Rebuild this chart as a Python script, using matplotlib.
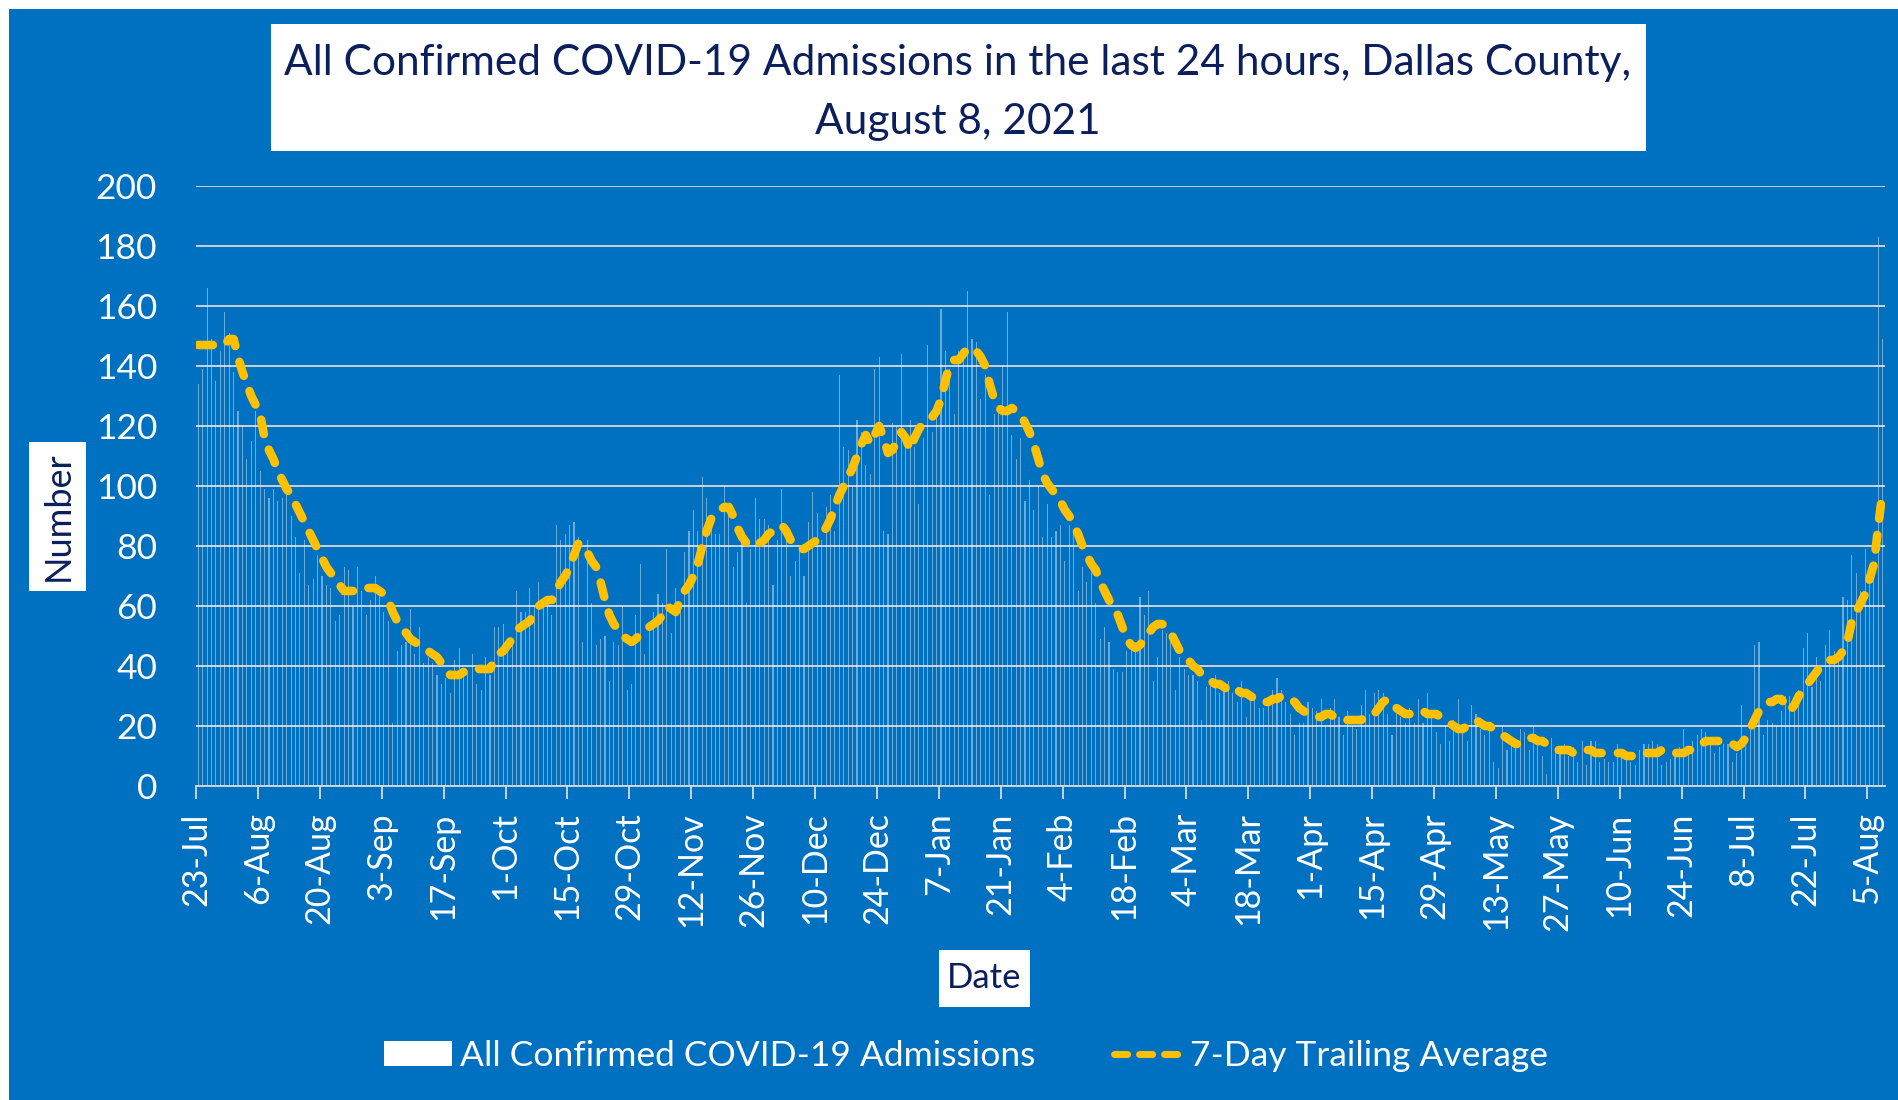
import matplotlib.pyplot as plt
import numpy as np
from matplotlib.patches import Rectangle, Patch
from matplotlib.lines import Line2D

# -----------------------------
# Data (daily admissions, 23-Jul-2020 .. 8-Aug-2021)
# -----------------------------
admissions = [
    134, 139, 166, 149, 135, 145, 158,
    151, 138, 125, 120, 109, 115, 125,
    105, 99, 96, 99, 95, 96, 97,
    90, 83, 71, 82, 67, 69, 77,
    70, 67, 66, 55, 57, 73, 72,
    60, 73, 65, 57, 62, 70, 64,
    58, 55, 21, 45, 47, 48, 59,
    44, 53, 41, 43, 41, 37, 34,
    36, 31, 42, 46, 38, 38, 44,
    34, 32, 43, 37, 53, 53, 54,
    46, 48, 65, 58, 58, 66, 60,
    68, 61, 60, 57, 87, 82, 84,
    87, 88, 83, 48, 82, 61, 47,
    49, 50, 35, 48, 47, 60, 32,
    34, 57, 74, 44, 54, 58, 64,
    61, 79, 51, 66, 60, 78, 85,
    92, 85, 103, 96, 87, 84, 84,
    100, 90, 73, 78, 84, 61, 79,
    96, 89, 89, 87, 67, 82, 99,
    83, 70, 75, 79, 70, 88, 98,
    91, 82, 93, 97, 85, 137, 113,
    112, 100, 122, 118, 107, 104, 139,
    143, 85, 84, 121, 120, 144, 116,
    122, 113, 94, 116, 147, 118, 124,
    159, 145, 139, 124, 145, 144, 165,
    149, 148, 129, 137, 97, 124, 127,
    140, 158, 117, 109, 116, 95, 102,
    92, 100, 83, 94, 83, 85, 87,
    75, 87, 85, 65, 73, 68, 73,
    61, 49, 53, 48, 39, 38, 38,
    45, 46, 48, 63, 57, 65, 35,
    43, 52, 51, 50, 32, 43, 39,
    37, 37, 35, 22, 33, 35, 37,
    31, 34, 35, 31, 28, 35, 23,
    31, 29, 26, 26, 29, 32, 36,
    32, 28, 24, 17, 21, 21, 28,
    26, 25, 29, 20, 26, 29, 23,
    17, 25, 20, 19, 27, 32, 24,
    31, 32, 31, 24, 17, 25, 23,
    21, 26, 21, 29, 21, 31, 23,
    18, 14, 20, 15, 22, 29, 18,
    15, 27, 24, 19, 17, 21, 8,
    6, 20, 12, 16, 13, 19, 18,
    12, 20, 15, 10, 4, 16, 12,
    13, 14, 10, 13, 8, 15, 7,
    15, 15, 8, 9, 8, 8, 14,
    12, 11, 8, 7, 12, 14, 14,
    15, 14, 7, 8, 9, 10, 13,
    19, 11, 15, 17, 19, 18, 16,
    11, 13, 14, 14, 8, 11, 27,
    15, 19, 47, 48, 17, 22, 21,
    20, 25, 30, 30, 30, 32, 46,
    51, 33, 43, 35, 47, 52, 45,
    42, 63, 62, 77, 71, 65, 79,
    71, 73, 183, 149,
]

avg_7day = [
    147, 147, 147, 147, 147, 147, 147,
    149, 149, 143, 138, 134, 130, 127,
    124, 116, 112, 109, 105, 102, 99,
    97, 94, 91, 88, 85, 82, 79,
    76, 73, 71, 69, 67, 65, 65,
    65, 66, 66, 66, 66, 66, 65,
    64, 62, 58, 55, 53, 51, 49,
    48, 47, 46, 45, 44, 43, 41,
    39, 37, 37, 37, 38, 38, 39,
    39, 39, 39, 39, 42, 44, 45,
    47, 49, 52, 53, 54, 55, 58,
    60, 61, 62, 62, 65, 68, 70,
    73, 77, 81, 80, 78, 75, 73,
    68, 62, 57, 54, 52, 50, 49,
    48, 49, 51, 52, 53, 54, 55,
    57, 60, 59, 58, 62, 65, 67,
    70, 74, 80, 85, 89, 91, 92,
    93, 93, 90, 86, 83, 81, 80,
    80, 81, 82, 84, 85, 86, 87,
    85, 82, 80, 79, 79, 80, 81,
    82, 84, 86, 89, 93, 97, 100,
    103, 106, 110, 114, 117, 114, 117,
    120, 116, 111, 112, 115, 118, 116,
    112, 116, 119, 121, 122, 123, 125,
    129, 135, 141, 142, 142, 144, 146,
    146, 145, 143, 140, 134, 129, 126,
    125, 125, 126, 125, 124, 121, 118,
    114, 109, 104, 101, 99, 97, 95,
    92, 90, 87, 84, 80, 77, 74,
    72, 68, 65, 62, 59, 57, 53,
    49, 47, 46, 47, 49, 51, 53,
    54, 54, 53, 51, 48, 45, 43,
    42, 40, 39, 37, 36, 35, 34,
    34, 33, 32, 33, 32, 31, 31,
    30, 29, 29, 28, 28, 29, 29,
    30, 29, 29, 28, 26, 25, 24,
    23, 23, 23, 24, 24, 23, 22,
    22, 22, 22, 22, 22, 23, 23,
    24, 26, 28, 29, 27, 26, 25,
    24, 24, 24, 24, 25, 24, 24,
    24, 23, 22, 21, 20, 19, 19,
    20, 21, 22, 21, 20, 20, 19,
    18, 17, 16, 15, 14, 14, 15,
    16, 16, 15, 15, 14, 13, 12,
    12, 12, 12, 11, 11, 12, 12,
    12, 11, 11, 11, 11, 11, 11,
    11, 10, 10, 10, 10, 11, 11,
    11, 11, 12, 12, 11, 11, 11,
    11, 12, 12, 13, 14, 15, 15,
    15, 15, 15, 14, 14, 13, 14,
    16, 19, 22, 25, 27, 28, 28,
    29, 29, 27, 25, 27, 30, 32,
    34, 36, 38, 40, 41, 42, 42,
    43, 45, 48, 55, 58, 61, 64,
    69, 74, 87, 99,
]

tick_labels = ["23-Jul", "6-Aug", "20-Aug", "3-Sep", "17-Sep", "1-Oct", "15-Oct",
               "29-Oct", "12-Nov", "26-Nov", "10-Dec", "24-Dec", "7-Jan", "21-Jan",
               "4-Feb", "18-Feb", "4-Mar", "18-Mar", "1-Apr", "15-Apr", "29-Apr",
               "13-May", "27-May", "10-Jun", "24-Jun", "8-Jul", "22-Jul", "5-Aug"]

BLUE = "#0070C0"
NAVY = "#0B1F5C"
GOLD = "#FFC000"
GRID = "#D9D9D9"

plt.rcParams['font.family'] = ['Lato', 'DejaVu Sans']

W, H = 1898, 1100
fig = plt.figure(figsize=(W / 100, H / 100), dpi=100)
fig.patch.set_facecolor("white")
fig.add_artist(Rectangle((9 / W, 0), 1, 1 - 9 / H, transform=fig.transFigure,
                         facecolor=BLUE, edgecolor="none", zorder=-10))

def box(x0, y0, x1, y1):
    # pixel coords (top-left origin) -> white box on the figure
    fig.add_artist(Rectangle((x0 / W, 1 - y1 / H), (x1 - x0) / W, (y1 - y0) / H,
                             transform=fig.transFigure, facecolor="white",
                             edgecolor="none", zorder=1))

ax = fig.add_axes([196 / W, 1 - 786 / H, (1885 - 196) / W, (786 - 186) / H])
ax.set_facecolor("none")

n = len(admissions)
x = np.arange(n) + 0.5
ax.bar(x, admissions, width=0.25, color="white", alpha=0.42, linewidth=0, zorder=2)
ax.plot(x, avg_7day, color=GOLD, lw=6.2, dashes=(1.7, 1.9),
        dash_capstyle="round", solid_capstyle="round", zorder=3)

ax.set_xlim(0, n)
ax.set_ylim(0, 200)
ax.set_yticks(range(0, 201, 20))
ax.yaxis.grid(True, color=GRID, lw=1.3)
ax.set_axisbelow(True)
for s in ["top", "right", "left"]:
    ax.spines[s].set_visible(False)
ax.spines["bottom"].set_color(GRID)
ax.spines["bottom"].set_linewidth(1.3)

ax.set_xticks(np.arange(0, n, 14))
ax.set_xticklabels(tick_labels, rotation=90, va="top", ha="center")
ax.tick_params(axis="x", direction="out", length=9, width=1.3, color=GRID,
               labelcolor="white", labelsize=24.5, pad=10)
ax.tick_params(axis="y", length=0, labelcolor="white", labelsize=25.5, pad=28)

# title box
box(271, 24, 1646, 151)
fig.text(958 / W, 1 - 75 / H, "All Confirmed COVID-19 Admissions in the last 24 hours, Dallas County,",
         ha="center", va="baseline", fontsize=30.5, color=NAVY, zorder=2)
fig.text(958 / W, 1 - 134 / H, "August 8, 2021",
         ha="center", va="baseline", fontsize=30.5, color=NAVY, zorder=2)

# axis title boxes
box(29, 442, 86, 591)
fig.text(58 / W, 1 - 516 / H, "Number", rotation=90, ha="center", va="center",
         fontsize=26, color=NAVY, zorder=2)
box(939, 950, 1030, 1007)
fig.text(984.5 / W, 1 - 978.5 / H, "Date", ha="center", va="center",
         fontsize=25, color=NAVY, zorder=2)

handles = [Patch(facecolor="white", edgecolor="none"),
           Line2D([], [], color=GOLD, lw=5.0, dashes=(1.9, 1.7),
                  dash_capstyle="round")]
leg = fig.legend(handles, ["All Confirmed COVID-19 Admissions", "7-Day Trailing Average"],
                 loc="center", bbox_to_anchor=(966 / W, 1 - 1056 / H), ncol=2,
                 frameon=False, fontsize=25.5, handlelength=1.9, handletextpad=0.25,
                 columnspacing=2.2)
for t in leg.get_texts():
    t.set_color("white")

fig.savefig("out.png", dpi=100, facecolor=fig.get_facecolor())
